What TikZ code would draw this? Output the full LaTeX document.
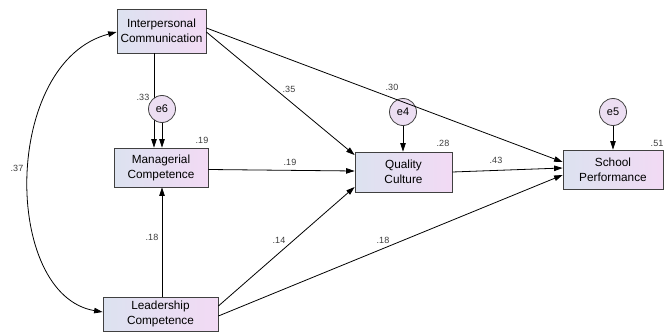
\documentclass[tikz,border=0pt]{standalone}
\usepackage{fontspec}
\setmainfont{Liberation Sans}
\usetikzlibrary{arrows.meta}
\definecolor{boxleft}{RGB}{220,226,240}
\definecolor{boxright}{RGB}{242,218,244}
\definecolor{errfill}{RGB}{236,222,242}
\definecolor{coefgray}{RGB}{60,60,60}

\begin{document}
\begin{tikzpicture}[x=1pt, y=-1pt,
		varbox/.style={draw=black!75, line width=0.8pt, left color=boxleft, right color=boxright, align=center, inner sep=1pt, font=\fontsize{11.8}{15}\selectfont},
		errcirc/.style={circle, draw=black!75, line width=0.8pt, fill=errfill, minimum size=27pt, inner sep=0pt, font=\fontsize{11}{12}\selectfont},
		coef/.style={text=coefgray, inner sep=0pt, font=\fontsize{9}{10}\selectfont},
		path/.style={line width=0.8pt, -{Triangle[length=8.5pt, width=5.5pt]}}]
			%%%%% START %%%%%
			
			\useasboundingbox (0, 0) rectangle (665, 332);
			
			% observed variables
			\node[varbox, minimum width=89pt, minimum height=44pt] (Ic) at (161.5, 31) {Interpersonal\\Communication};
			\node[varbox, minimum width=94pt, minimum height=39pt] (Mc) at (161, 167.5) {Managerial\\Competence};
			\node[varbox, minimum width=115pt, minimum height=34pt] (Lc) at (160.5, 314) {Leadership\\Competence};
			\node[varbox, minimum width=97pt, minimum height=40pt] (Qc) at (403.5, 172) {Quality\\Culture};
			\node[varbox, minimum width=100pt, minimum height=39pt] (Sp) at (613, 169.5) {School\\Performance};
			
			% paths
			\draw[path] ([xshift=-7.5pt]Ic.south) -- ([xshift=-7pt]Mc.north);
			\draw[path] ([xshift=1.5pt]Lc.north) -- ([xshift=1pt]Mc.south);
			\draw[path] ([yshift=-1pt]Ic.east) -- ([yshift=17pt]Qc.west);
			\draw[path] ([yshift=-2pt]Mc.east) -- ([yshift=1pt]Qc.west);
			\draw[path] ([yshift=8pt]Lc.east) -- ([yshift=-15pt]Qc.west);
			\draw[path] (Qc.east) -- ([yshift=1.5pt]Sp.west);
			\draw[path] ([yshift=-2pt]Lc.east) -- ([yshift=-5.5pt]Sp.west);
			
			% covariance
			\draw[line width=0.8pt, {Triangle[length=8.5pt, width=5.5pt]}-{Triangle[length=8.5pt, width=5.5pt]}] ([yshift=-1pt]Ic.west) .. controls (2, 62) and (2, 295) .. ([yshift=2pt]Lc.west);
			
			% error terms
			\node[errcirc] (e6) at (162, 109) {e6};
			\node[errcirc] (e4) at (403, 112) {e4};
			\node[errcirc] (e5) at (613, 112) {e5};
			\draw[path] (e6.south) -- (e6.south |- Mc.north);
			\draw[path] (e4.south) -- (e4.south |- Qc.north);
			\draw[path] (e5.south) -- (e5.south |- Sp.north);
			
			\draw[path] ([yshift=3pt]Ic.east) -- ([yshift=7.5pt]Sp.west);
			
			% estimates
			\node[coef] (k1) at (143, 97) {.33};
			\node[coef] (k2) at (202, 140) {.19};
			\node[coef] (k3) at (289, 89) {.35};
			\node[coef] (k4) at (392, 87) {.30};
			\node[coef] (k5) at (443, 143) {.28};
			\node[coef] (k6) at (290, 162) {.19};
			\node[coef] (k7) at (496, 160) {.43};
			\node[coef] (k8) at (657, 143) {.51};
			\node[coef] (k9) at (152, 237) {.18};
			\node[coef] (k10) at (279, 240) {.14};
			\node[coef] (k11) at (383, 240) {.18};
			\node[coef] (k12) at (17, 168) {.37};
			
			%%%%% END %%%%%
		\end{tikzpicture}
\end{document}
